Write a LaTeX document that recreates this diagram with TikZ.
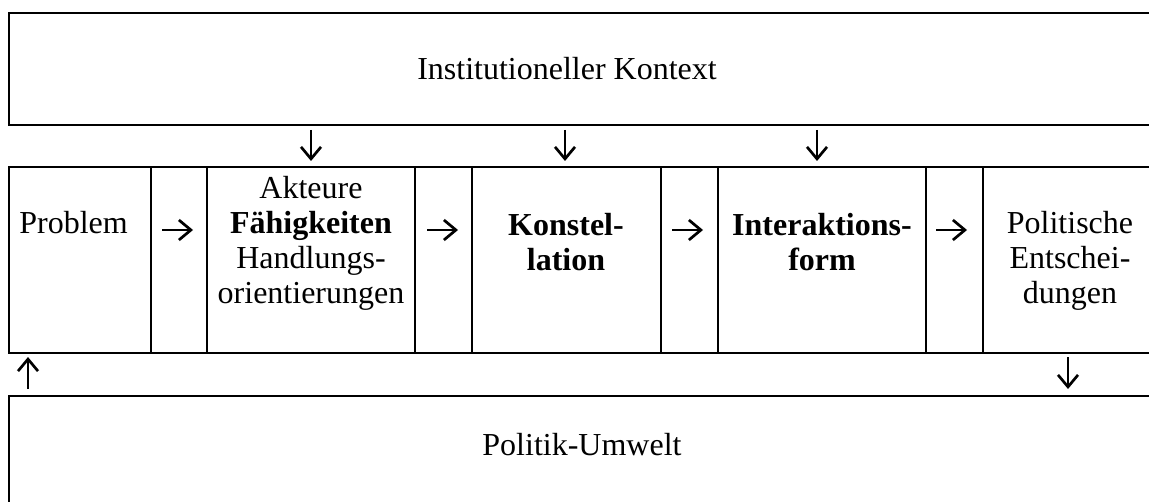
\documentclass[tikz,border=0pt]{standalone}
\usepackage{fontspec}
\setmainfont{Liberation Serif}
\usetikzlibrary{arrows.meta}
\begin{document}
\begin{tikzpicture}[x=0.5pt,y=-0.5pt,
  frame/.style={line width=1.3pt},
  lbl/.style={inner sep=0pt, font=\fontsize{16}{17.5}\selectfont, align=center},
  arr/.style={line width=1.35pt, -{Straight Barb[length=6pt,width=10pt,line width=1.35pt]}}]
\useasboundingbox (0,0) rectangle (1149,502);
\clip (0,0) rectangle (1149,502);
% frames
\draw[frame] (9,13) rectangle (1170,125);
\draw[frame] (9,167) rectangle (1170,353);
\foreach \xx in {151,207,415,472,661,718,926,983}
  \draw[frame] (\xx,167) -- (\xx,353);
\draw[frame] (9,396) rectangle (1170,530);
% texts
\node[lbl, anchor=base] (ik) at (567,80) {Institutioneller Kontext};
\node[lbl, anchor=base west] (prob) at (19,234) {Problem};
\node[lbl, anchor=north] (akt) at (311,173.5) {\strut Akteure\\\textbf{Fähigkeiten}\\Handlungs-\\orientierungen};
\node[lbl, anchor=north] (kon) at (566,210.5) {\strut\textbf{Konstel-}\\\textbf{lation}};
\node[lbl, anchor=north] (inter) at (822,210.5) {\strut\textbf{Interaktions-}\\\textbf{form}};
\node[lbl, anchor=north] (pol) at (1070,208.5) {\strut Politische\\Entschei-\\dungen};
\node[lbl, anchor=base] (umw) at (582,455) {Politik-Umwelt};
% arrow end points
\coordinate (h1a) at (162,230); \coordinate (h1b) at (193,230);
\coordinate (h2a) at (427,230); \coordinate (h2b) at (458,230);
\coordinate (h3a) at (672,230); \coordinate (h3b) at (703,230);
\coordinate (h4a) at (936,230); \coordinate (h4b) at (967,230);
\coordinate (v1a) at (311,130); \coordinate (v1b) at (311,161);
\coordinate (v2a) at (565,130); \coordinate (v2b) at (565,161);
\coordinate (v3a) at (817,130); \coordinate (v3b) at (817,161);
\coordinate (upa) at (28,389); \coordinate (upb) at (28,357);
\coordinate (dna) at (1068,357); \coordinate (dnb) at (1068,389);
% arrows
\draw[arr] (h1a) -- (h1b);
\draw[arr] (h2a) -- (h2b);
\draw[arr] (h3a) -- (h3b);
\draw[arr] (h4a) -- (h4b);
\draw[arr] (v1a) -- (v1b);
\draw[arr] (v2a) -- (v2b);
\draw[arr] (v3a) -- (v3b);
\draw[arr] (upa) -- (upb);
\draw[arr] (dna) -- (dnb);
\end{tikzpicture}
\end{document}
